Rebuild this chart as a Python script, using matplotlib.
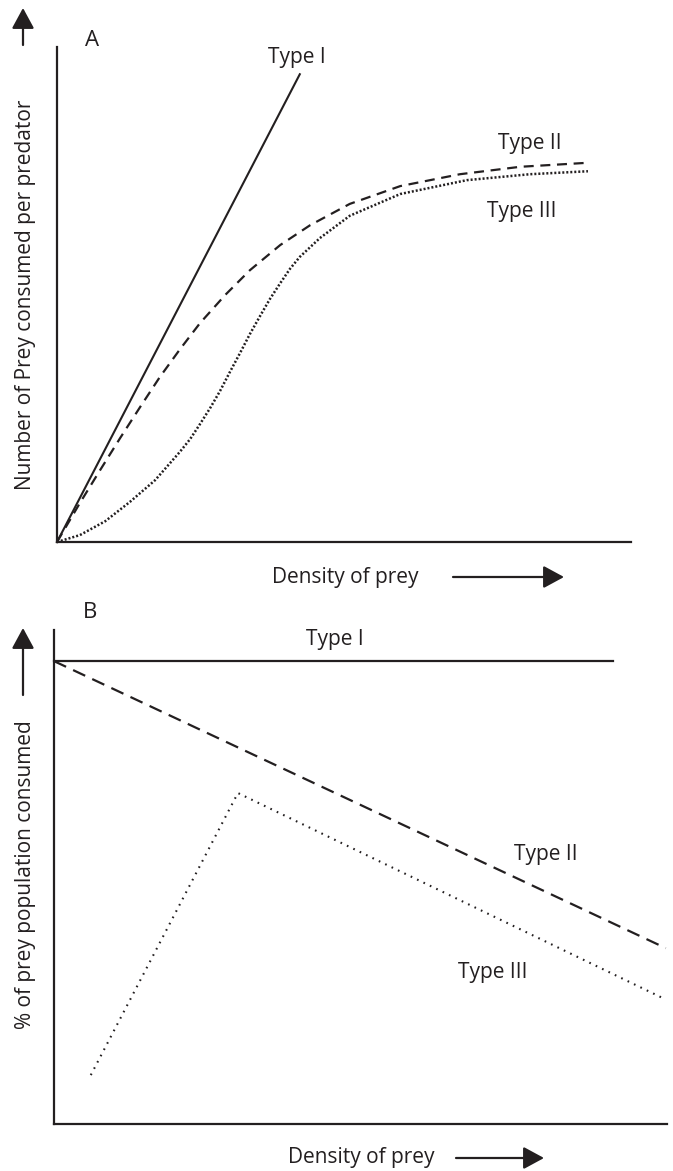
import matplotlib.pyplot as plt

plt.rcParams['font.family'] = ['Open Sans', 'DejaVu Sans']
INK = '#231f20'
W, H = 673, 1171

# Panel A: functional responses (number consumed vs prey density)
type1_a_x = [0, 42.3]
type1_a_y = [0, 94.5]
type2_a_x = [0, 4.0, 7.5, 11.0, 14.5, 17.9, 21.4, 24.9, 29.3, 33.6, 38.9, 44.1, 51.0, 59.8, 70.2, 80.7, 92.3]
type2_a_y = [0, 7.9, 14.5, 21.0, 27.3, 33.3, 38.9, 44.2, 49.9, 54.9, 60.0, 64.0, 68.3, 71.9, 74.3, 75.8, 76.6]
type3_a_x = [0, 4.0, 8.4, 12.7, 17.1, 21.4, 23.2, 24.9, 26.7, 28.4, 30.1, 31.9, 33.6, 35.4, 37.1,
             38.9, 40.6, 42.3, 45.8, 51.0, 59.8, 71.4, 82.4, 92.5]
type3_a_y = [0, 1.4, 4.2, 8.1, 12.5, 18.2, 20.8, 23.8, 27.1, 30.5, 34.3, 38.2, 42.0, 45.7, 49.1,
             52.3, 55.2, 57.6, 61.4, 65.9, 70.3, 73.1, 74.3, 74.9]

# Panel B: % of prey population consumed vs prey density
type1_b_x = [0, 91.2]
type1_b_y = [93.7, 93.7]
type2_b_x = [0, 99.8]
type2_b_y = [93.7, 35.6]
type3_b_x = [6.0, 30.0, 99.3]
type3_b_y = [9.9, 67.0, 25.5]


def fig_px(x, y):
    # top-left pixel coords -> figure pixels
    return (x, H - y)


def setup_axes(ax):
    for s in ['top', 'right']:
        ax.spines[s].set_visible(False)
    for s in ['left', 'bottom']:
        ax.spines[s].set_linewidth(1.6)
        ax.spines[s].set_color(INK)
    ax.set_xticks([])
    ax.set_yticks([])
    ax.set_xlim(0, 100)
    ax.set_ylim(0, 100)
    ax.patch.set_alpha(0)


def arrow(x0, y0, x1, y1):
    plt.annotate('', xy=fig_px(x1, y1), xytext=fig_px(x0, y0),
                 xycoords='figure pixels', textcoords='figure pixels',
                 arrowprops=dict(arrowstyle='-|>,head_length=0.7,head_width=0.38',
                                 lw=1.6, color=INK, mutation_scale=18,
                                 shrinkA=0, shrinkB=0))


fig = plt.figure(figsize=(W / 100, H / 100), dpi=100)
FS = 15

axA = fig.add_axes([57 / W, 1 - 542 / H, 574 / W, 495 / H])
setup_axes(axA)
axA.plot(type1_a_x, type1_a_y, color=INK, lw=1.5, clip_on=False)
axA.plot(type2_a_x, type2_a_y, color=INK, lw=1.6, ls=(0, (4.5, 3)), clip_on=False)
axA.plot(type3_a_x, type3_a_y, color=INK, lw=1.8, ls=(0, (0.8, 0.8)), clip_on=False)
axA.text(41.8, 97.8, 'Type I', fontsize=FS, color=INK, ha='center', va='center')
axA.text(82.4, 80.6, 'Type II', fontsize=FS, color=INK, ha='center', va='center')
axA.text(81.0, 66.7, 'Type III', fontsize=FS, color=INK, ha='center', va='center')

axB = fig.add_axes([54 / W, 1 - 1124 / H, 613 / W, 494 / H])
setup_axes(axB)
axB.plot(type1_b_x, type1_b_y, color=INK, lw=1.6, clip_on=False)
axB.plot(type2_b_x, type2_b_y, color=INK, lw=1.6, ls=(0, (6, 3.5)), clip_on=False)
axB.plot(type3_b_x, type3_b_y, color=INK, lw=1.5, ls=(0, (0.8, 2.6)), clip_on=False)
axB.text(45.8, 98.0, 'Type I', fontsize=FS, color=INK, ha='center', va='center')
axB.text(80.3, 54.5, 'Type II', fontsize=FS, color=INK, ha='center', va='center')
axB.text(71.6, 30.6, 'Type III', fontsize=FS, color=INK, ha='center', va='center')

# panel letters, axis titles and arrows
fig.text(92 / W, 1 - 40 / H, 'A', fontsize=FS + 1, color=INK, ha='center', va='center')
fig.text(90 / W, 1 - 612 / H, 'B', fontsize=FS + 1, color=INK, ha='center', va='center')
fig.text(26 / W, 1 - 295 / H, 'Number of Prey consumed per predator', fontsize=FS,
         color=INK, rotation=90, ha='center', va='center')
fig.text(26 / W, 1 - 875 / H, '% of prey population consumed', fontsize=FS,
         color=INK, rotation=90, ha='center', va='center')
fig.text(345 / W, 1 - 578 / H, 'Density of prey', fontsize=FS, color=INK,
         ha='center', va='center')
fig.text(361 / W, 1 - 1158 / H, 'Density of prey', fontsize=FS, color=INK,
         ha='center', va='center')

arrow(23, 45, 23, 8)
arrow(23, 695, 23, 628)
arrow(453, 577, 564, 577)
arrow(456, 1158, 544, 1158)

fig.savefig('out.png', dpi=100)
